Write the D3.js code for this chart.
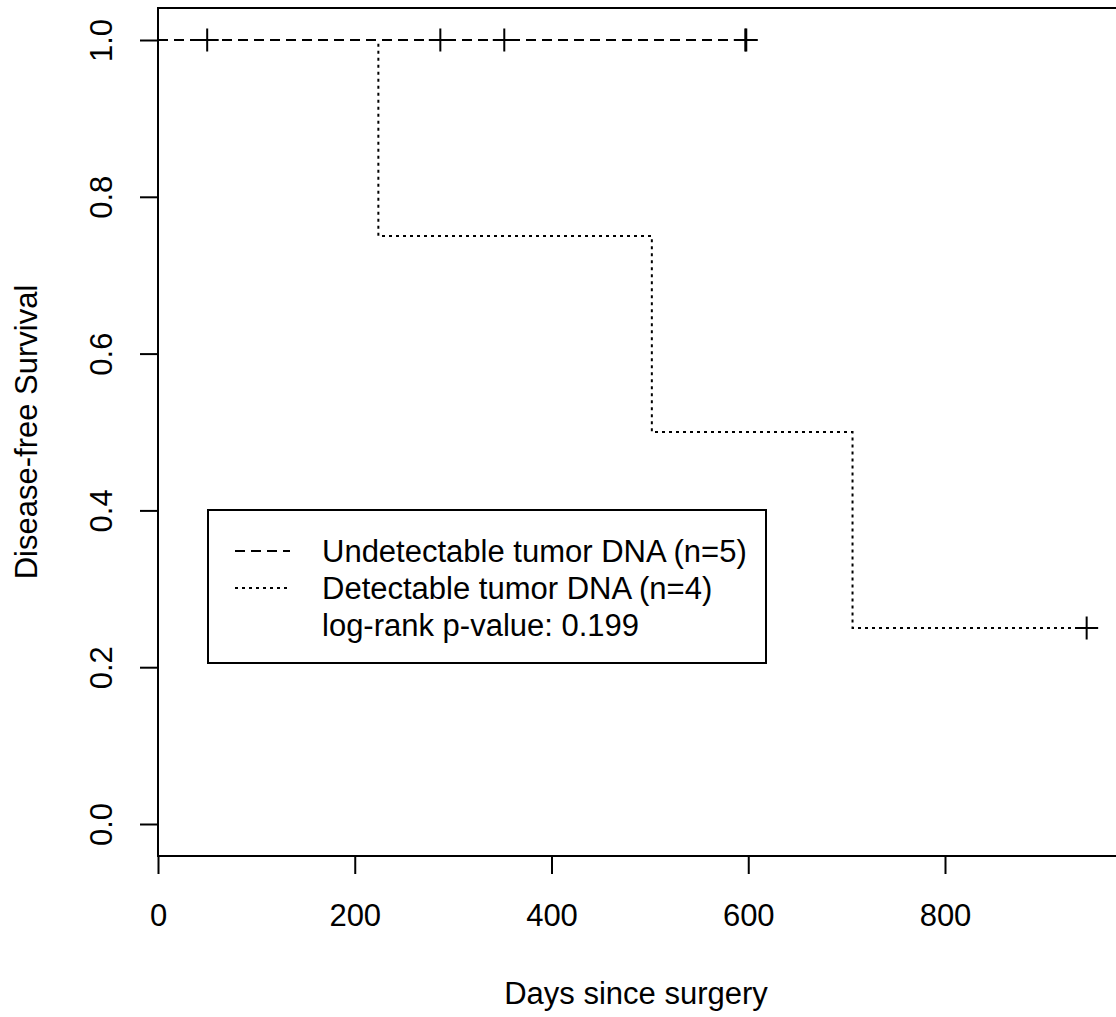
<!DOCTYPE html>
<html>
<head>
<meta charset="utf-8">
<script src="https://cdn.jsdelivr.net/npm/d3@7"></script>
<style>
  html, body { margin: 0; padding: 0; background: #fff; }
  svg { display: block; font-family: "Liberation Sans", Arial, sans-serif; }
</style>
</head>
<body>
<svg id="chart" width="1116" height="1017"></svg>
<script>
// ---- data ----
const groupLabels = ["Undetectable tumor DNA (n=5)", "Detectable tumor DNA (n=4)"];
const pValueLabel = "log-rank p-value: 0.199";

const undetStepTimes = [0, 598];
const undetStepSurv  = [1.0, 1.0];
const undetCensorTimes = [50, 287, 352, 597, 598];
const undetCensorSurv  = [1.0, 1.0, 1.0, 1.0, 1.0];

const detStepTimes = [0, 224, 502, 706, 944];
const detStepSurv  = [1.0, 0.75, 0.5, 0.25, 0.25];
const detCensorTimes = [944];
const detCensorSurv  = [0.25];

const xTicks = [0, 200, 400, 600, 800];
const yTicks = [0.0, 0.2, 0.4, 0.6, 0.8, 1.0];
const yTickLabels = ["0.0", "0.2", "0.4", "0.6", "0.8", "1.0"];
const xTitle = "Days since surgery";
const yTitle = "Disease-free Survival";

// ---- layout ----
const svg = d3.select("#chart");
const FS = 31;
const boxL = 158, boxT = 8, boxB = 856, boxR = 1120;
const x = d3.scaleLinear().domain([0, 800]).range([158, 945]);
const y = d3.scaleLinear().domain([0, 1]).range([824, 40]);

// plot box
svg.append("rect")
  .attr("x", boxL).attr("y", boxT)
  .attr("width", boxR - boxL).attr("height", boxB - boxT)
  .attr("fill", "none").attr("stroke", "#000").attr("stroke-width", 2);

// x axis
const xAxis = svg.append("g").attr("transform", `translate(0,${boxB})`)
  .call(d3.axisBottom(x).tickValues(xTicks).tickSize(18).tickPadding(30).tickFormat(d3.format("d")));
xAxis.select(".domain").remove();
xAxis.selectAll(".tick line").attr("stroke", "#000").attr("stroke-width", 2);
xAxis.selectAll(".tick text").attr("font-size", FS).attr("fill", "#000")
  .attr("font-family", "Liberation Sans, Arial, sans-serif");

// y axis
const yAxis = svg.append("g").attr("transform", `translate(${boxL},0)`)
  .call(d3.axisLeft(y).tickValues(yTicks).tickSize(18).tickFormat((d, i) => yTickLabels[i]));
yAxis.select(".domain").remove();
yAxis.selectAll(".tick line").attr("stroke", "#000").attr("stroke-width", 2);
yAxis.selectAll(".tick text")
  .attr("x", null).attr("dy", null).attr("y", 0)
  .attr("text-anchor", "middle")
  .attr("transform", "translate(-46,0) rotate(-90)")
  .attr("font-size", FS).attr("fill", "#000")
  .attr("font-family", "Liberation Sans, Arial, sans-serif");

// axis titles
svg.append("text").attr("x", (boxL + 1114) / 2).attr("y", 1004)
  .attr("text-anchor", "middle").attr("font-size", FS).attr("fill", "#000").text(xTitle);
svg.append("text").attr("transform", `translate(37,${(40 + 824) / 2}) rotate(-90)`)
  .attr("text-anchor", "middle").attr("font-size", FS).attr("fill", "#000").text(yTitle);

// survival curves
const line = d3.line().x(d => x(d[0])).y(d => y(d[1])).curve(d3.curveStepAfter);
const DASH = "10,6", DOT = "3,4";

svg.append("path")
  .datum(detStepTimes.map((t, i) => [t, detStepSurv[i]]))
  .attr("d", line).attr("fill", "none").attr("stroke", "#000")
  .attr("stroke-width", 2).attr("stroke-dasharray", DOT);

const undetData = undetStepTimes.map((t, i) => [t, undetStepSurv[i]]);
// white underlay so the overlapping stretch reads as clean dashes (as in the reference)
svg.append("path").datum(undetData)
  .attr("d", line).attr("fill", "none").attr("stroke", "#fff").attr("stroke-width", 2);
svg.append("path").datum(undetData)
  .attr("d", line).attr("fill", "none").attr("stroke", "#000")
  .attr("stroke-width", 2).attr("stroke-dasharray", DASH);

// censor marks
const H = 11.5;
function plusPath(d) {
  const cx = x(d[0]), cy = y(d[1]);
  return `M${cx - H},${cy}H${cx + H}M${cx},${cy - H}V${cy + H}`;
}
const censors = undetCensorTimes.map((t, i) => [t, undetCensorSurv[i]])
  .concat(detCensorTimes.map((t, i) => [t, detCensorSurv[i]]));
svg.append("g").selectAll("path").data(censors).join("path")
  .attr("d", plusPath).attr("fill", "none").attr("stroke", "#000").attr("stroke-width", 2);

// legend
const lg = svg.append("g");
lg.append("rect").attr("x", 208).attr("y", 510).attr("width", 558).attr("height", 153)
  .attr("fill", "#fff").attr("stroke", "#000").attr("stroke-width", 2);
const legRows = [
  { label: groupLabels[0], dash: DASH },
  { label: groupLabels[1], dash: DOT },
  { label: pValueLabel, dash: null }
];
legRows.forEach((r, i) => {
  const yy = 551 + i * 37;
  if (r.dash) {
    lg.append("line").attr("x1", 235).attr("x2", 290).attr("y1", yy).attr("y2", yy)
      .attr("stroke", "#000").attr("stroke-width", 2).attr("stroke-dasharray", r.dash);
  }
  lg.append("text").attr("x", 322).attr("y", yy + 11)
    .attr("font-size", FS).attr("fill", "#000").text(r.label);
});
</script>
</body>
</html>
